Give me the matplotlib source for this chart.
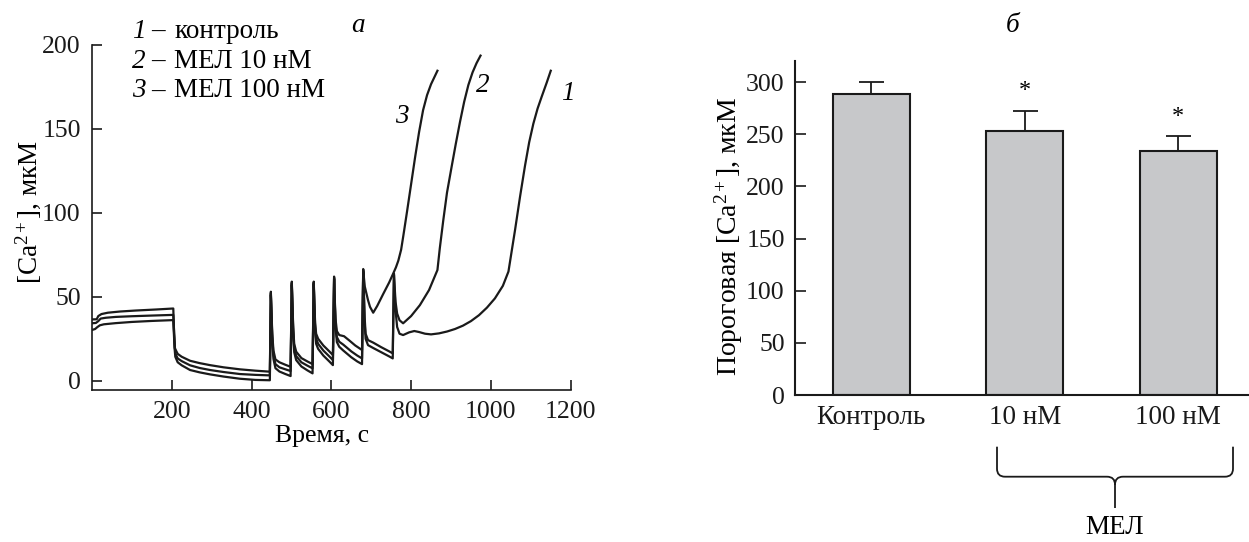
import matplotlib
matplotlib.use("Agg")
import matplotlib.pyplot as plt
from matplotlib.path import Path
from matplotlib.patches import PathPatch
import numpy as np

plt.rcParams['font.family'] = ['Liberation Serif', 'DejaVu Serif']
plt.rcParams['mathtext.fontset'] = 'custom'
plt.rcParams['mathtext.rm'] = 'Liberation Serif'
plt.rcParams['mathtext.it'] = 'Liberation Serif:italic'

# ---------------- data: panel a (traces) ----------------
t1 = [0, 8, 14, 20, 30, 60, 100, 150, 204,
      207, 209, 215, 225, 246, 270, 296, 330, 371, 410, 446,
      448.5, 450, 452, 455, 460, 470, 485, 498,
      501, 502.5, 504.5, 507, 512, 525, 540, 553,
      556, 557.5, 559.5, 562, 567, 580, 595, 604,
      607, 608.5, 610.5, 614, 620, 630, 650, 665, 677,
      680, 681.5, 683.5, 686, 692, 705, 725, 745, 754,
      757, 758.5, 761, 765, 771, 780, 795, 808, 820, 835, 850, 870, 890,
      910, 930, 950, 970, 990, 1010, 1030, 1044, 1052, 1060.5, 1073, 1085.5,
      1096, 1106.4, 1117, 1127.2, 1140, 1150]
y1 = [30.2, 30.8, 32, 33, 33.6, 34.3, 35, 35.6, 36.1,
      20, 14.3, 11, 9.2, 6.4, 5, 3.8, 2.5, 1.2, 0.5, 0.3,
      51, 40, 24, 13, 7.5, 5.5, 4, 2.8,
      57, 45, 28, 17, 12.3, 8.5, 6.2, 4.4,
      57.5, 45, 30, 22, 19, 15, 11.5, 9.3,
      60.5, 48, 32, 23, 20.2, 18, 14, 11.5, 9.9,
      64.5, 52, 35, 25, 21.2, 19.5, 17, 14.5, 13.3,
      63, 55, 42, 32, 28, 27.2, 28.8, 29.6, 29, 28, 27.6, 28.2, 29.3,
      30.8, 32.8, 35.5, 39, 43.5, 49, 56.5, 65, 77, 89.7, 109.5, 128,
      142, 153, 162, 169, 177.5, 184.5]

t2 = [0, 10, 16, 22, 35, 60, 100, 150, 204,
      207, 209, 215, 225, 246, 270, 296, 330, 371, 410, 446,
      448.5, 450, 452, 455, 460, 470, 485, 498,
      501, 502.5, 504.5, 507, 512, 525, 540, 553,
      556, 557.5, 559.5, 562, 567, 580, 595, 604,
      607, 608.5, 610.5, 614, 620, 630, 650, 665, 677,
      680, 681.5, 683.5, 686, 692, 705, 725, 745, 754,
      757, 758.5, 761, 765, 771, 780, 800, 822, 845, 866, 872, 880.7,
      890, 901.6, 912, 922.5, 933, 943.5, 954, 964, 974]
y2 = [34.2, 34.4, 35.5, 37, 37.5, 38, 38.4, 38.8, 39.2,
      24, 16.3, 13.3, 11.7, 9.2, 7.6, 6.4, 5.2, 4, 3.5, 3.2,
      52, 41, 26, 15.5, 9.9, 8, 6.8, 5.8,
      58, 46, 30, 19.5, 14.7, 11, 9, 7.4,
      58.3, 46, 32, 25, 22, 18, 14.5, 12.3,
      61.3, 49, 34, 26, 23.2, 21.5, 17.5, 15, 13.3,
      65.5, 54, 38, 28, 24.2, 22.7, 20, 17.5, 16.3,
      63.8, 57, 47, 40, 36, 34.2, 38.5, 45, 54, 65.9, 79, 95.6,
      112, 127.4, 141, 154, 166, 176, 183.5, 189, 193.5]

t3 = [0, 12, 16, 24, 40, 70, 110, 160, 204,
      206, 208, 215, 225, 246, 270, 296, 330, 371, 410, 446,
      448.5, 450, 452, 455, 460, 470, 485, 498,
      501, 502.5, 504.5, 507, 512, 525, 540, 553,
      556, 557.5, 559.5, 562, 567, 580, 595, 604,
      607, 608.5, 610.5, 614, 620, 632, 645, 660, 677,
      680, 681.5, 684, 688, 692, 697, 705, 715, 730, 745, 755.5,
      762, 768, 775, 781, 790, 800, 810, 820, 830, 840, 850, 858, 866]
y3 = [36.5, 36.6, 38.5, 39.7, 40.5, 41.2, 41.8, 42.4, 43,
      28, 19.3, 16, 14.3, 11.9, 10.5, 9.3, 8, 6.8, 6, 5.4,
      53, 42, 28, 18, 12.7, 11, 9.5, 8.3,
      59, 47, 32, 22, 17.3, 13.5, 11.5, 9.9,
      59, 47, 34, 28, 25, 21, 17.5, 15.3,
      62, 50, 37, 29.5, 27.2, 26.5, 24, 21, 18.3,
      66.5, 62, 56, 52, 48, 44, 40.5, 44.5, 51.6, 58.5, 64,
      67.5, 71.5, 78, 87, 101, 117, 133, 148, 161, 170, 176.5, 180.5, 184.5]

traces = [(t1, y1), (t2, y2), (t3, y3)]
trace_labels = ['1', '2', '3']
trace_label_pos = [(1194, 171), (980, 176), (776, 157)]
legend_rows = ['контроль', 'МЕЛ 10 нМ', 'МЕЛ 100 нМ']

# ---------------- data: panel b (bars) ----------------
categories = ['Контроль', '10 нМ', '100 нМ']
bar_values = [288.5, 253.5, 233.5]
bar_errors = [12, 19, 14.5]
signif = ['', '*', '*']

W, H = 1249, 542
fig = plt.figure(figsize=(W / 100, H / 100), dpi=100)

def fx(px):
    return px / W

def fy(py):
    return (H - py) / H

FS = 18.5
FL = 19.5
INK = '#1a1a1a'

# ---------------- panel a ----------------
ax1 = fig.add_axes([fx(91.9), fy(390), fx(570.7) - fx(91.9), fy(44.7) - fy(390)])
for t, y in traces:
    ax1.plot(t, y, color=INK, lw=1.6, solid_joinstyle='round')
ax1.set_xlim(0, 1200)
ax1.set_ylim(-5.5, 200)
ax1.set_xticks([200, 400, 600, 800, 1000, 1200])
ax1.set_yticks([0, 50, 100, 150, 200])
ax1.spines['top'].set_visible(False)
ax1.spines['right'].set_visible(False)
for sp in ax1.spines.values():
    sp.set_linewidth(1.2)
    sp.set_color(INK)
ax1.tick_params(direction='in', length=7, width=1.2, labelsize=FS, pad=8, colors=INK)
ax1.set_xlabel('Время, с', fontsize=FS)
ax1.xaxis.set_label_coords(0.48, -0.10)
ax1.set_ylabel('[Ca$^{2+}$], мкМ', fontsize=FL)
ax1.yaxis.set_label_coords(-0.102, 0.515)
for lab, (tx, ty) in zip(trace_labels, trace_label_pos):
    ax1.text(tx, ty, lab, fontsize=FL, style='italic', ha='center', va='center')

for i, row in enumerate(legend_rows):
    ypix = 31 + 30 * i
    fig.text(fx(131.7), fy(ypix), trace_labels[i], fontsize=FL, style='italic',
             ha='left', va='center')
    fig.text(fx(151.5), fy(ypix), '–', fontsize=FL, ha='left', va='center')
    fig.text(fx(174.5), fy(ypix), row, fontsize=FL, ha='left', va='center')
fig.text(fx(358), fy(25), 'а', fontsize=FL, style='italic', ha='center', va='center')

# ---------------- panel b ----------------
ax2 = fig.add_axes([fx(794.5), fy(395), 1 - fx(794.5), fy(61.2) - fy(395)])
x = np.arange(len(categories))
ax2.bar(x, bar_values, width=0.5, color='#c7c8ca', edgecolor=INK, linewidth=1.5, zorder=2)
ax2.errorbar(x, bar_values, yerr=[np.zeros(len(x)), bar_errors], fmt='none',
             ecolor=INK, elinewidth=1.3, capsize=9, capthick=1.3, zorder=1)
for xi, v, e, s in zip(x, bar_values, bar_errors, signif):
    if s:
        ax2.text(xi, v + e + 19, s, fontsize=FS - 1, ha='center', va='center')
ax2.set_xlim(-0.5, 2.46)
ax2.set_ylim(0, 320)
ax2.set_yticks([0, 50, 100, 150, 200, 250, 300])
ax2.set_xticks(x)
ax2.set_xticklabels(categories)
ax2.spines['top'].set_visible(False)
ax2.spines['right'].set_visible(False)
for sp in ax2.spines.values():
    sp.set_linewidth(1.5)
    sp.set_color(INK)
ax2.tick_params(axis='y', direction='in', length=8, width=1.2, labelsize=FS, pad=7, colors=INK)
ax2.tick_params(axis='x', length=0, labelsize=FL, pad=7, colors=INK)
ax2.set_ylabel('Пороговая [Ca$^{2+}$], мкМ', fontsize=FL + 0.5)
ax2.yaxis.set_label_coords(-0.11, 0.476)
fig.text(fx(1013), fy(25), 'б', fontsize=FL, style='italic', ha='center', va='center')

# brace under the МЕЛ groups
L, R, M = 997, 1233, 1115
top, mid, tip = 446.7, 476.7, 508
r = 8
verts = [(L, top), (L, mid - r), (L, mid), (L + r, mid), (M - r, mid), (M, mid), (M, mid + r), (M, tip),
         (M, mid + r), (M, mid), (M + r, mid), (R - r, mid), (R, mid), (R, mid - r), (R, top)]
codes = [Path.MOVETO, Path.LINETO, Path.CURVE3, Path.CURVE3, Path.LINETO, Path.CURVE3, Path.CURVE3, Path.LINETO,
         Path.MOVETO, Path.CURVE3, Path.CURVE3, Path.LINETO, Path.CURVE3, Path.CURVE3, Path.LINETO]
brace = Path([(fx(a), fy(b)) for a, b in verts], codes)
fig.add_artist(PathPatch(brace, transform=fig.transFigure, fill=False, edgecolor=INK, lw=1.3))
fig.text(fx(M), fy(527), 'МЕЛ', fontsize=FL, ha='center', va='center')

fig.savefig('out.png', dpi=100)
